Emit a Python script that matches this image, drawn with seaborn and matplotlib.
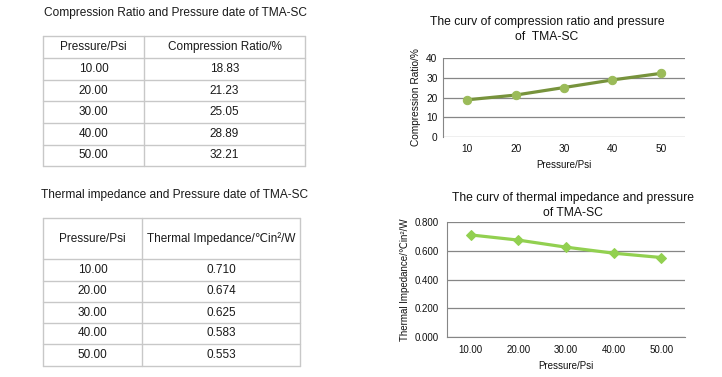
import matplotlib
matplotlib.use("Agg")
import matplotlib.pyplot as plt
import seaborn as sns
import pandas as pd

pressure = [10.00, 20.00, 30.00, 40.00, 50.00]
compression_ratio = [18.83, 21.23, 25.05, 28.89, 32.21]
thermal_impedance = [0.710, 0.674, 0.625, 0.583, 0.553]
ratio_ticks = ["10", "20", "30", "40", "50"]
imp_ticks = ["10.00", "20.00", "30.00", "40.00", "50.00"]

sns.set_style("white")
plt.rcParams['font.family'] = ['Liberation Sans', 'DejaVu Sans']

W, H = 722, 377
fig = plt.figure(figsize=(W / 100, H / 100), dpi=100)

# ---------- background axes in pixel coordinates for tables ----------
bg = fig.add_axes([0, 0, 1, 1])
bg.set_xlim(0, W)
bg.set_ylim(H, 0)
bg.axis("off")

grid_c = "#c8c8c8"
txt_c = "#1a1a1a"


def draw_table(x0, x1, xs, ys, header, rows, title, title_xy):
    bg.text(title_xy[0], title_xy[1], title, ha="center", va="center",
            fontsize=8.6, color=txt_c)
    for y in ys:
        bg.plot([x0, x1], [y, y], color=grid_c, lw=1.0)
    for x in [x0, xs, x1]:
        bg.plot([x, x], [ys[0], ys[-1]], color=grid_c, lw=1.0)
    cx0 = (x0 + xs) / 2
    cx1 = (xs + x1) / 2
    allrows = [header] + rows
    for i, (a, b) in enumerate(allrows):
        yc = (ys[i] + ys[i + 1]) / 2
        bg.text(cx0, yc, a, ha="center", va="center", fontsize=8.5, color=txt_c)
        bg.text(cx1, yc, b, ha="center", va="center", fontsize=8.5, color=txt_c)


rows1 = [(f"{p:.2f}", f"{c:.2f}") for p, c in zip(pressure, compression_ratio)]
draw_table(43, 305, 144, [36, 58, 80, 101, 123, 145, 166],
           ("Pressure/Psi", "Compression Ratio/%"), rows1,
           "Compression Ratio and Pressure date of TMA-SC", (175, 13))

rows2 = [(f"{p:.2f}", f"{t:.3f}") for p, t in zip(pressure, thermal_impedance)]
draw_table(43, 300, 142, [218, 259, 281, 302, 323, 344, 366],
           ("Pressure/Psi", "Thermal Impedance/℃in²/W"), rows2,
           "Thermal impedance and Pressure date of TMA-SC", (175, 195))

# chart titles
bg.text(547, 22, "The curv of compression ratio and pressure", ha="center",
        va="center", fontsize=8.75, color="#111111")
bg.text(547, 37, "of  TMA-SC", ha="center", va="center", fontsize=8.75,
        color="#111111")
bg.text(573, 198, "The curv of thermal impedance and pressure", ha="center",
        va="center", fontsize=8.75, color="#111111")
bg.text(573, 213, "of TMA-SC", ha="center", va="center", fontsize=8.75,
        color="#111111")


def ax_at(x0, y0, x1, y1):
    return fig.add_axes([x0 / W, 1 - y1 / H, (x1 - x0) / W, (y1 - y0) / H])


axis_c = "#868686"

# ---------- chart 1 ----------
ax1 = ax_at(443, 58, 685, 137)
df1 = pd.DataFrame({"Pressure": ratio_ticks, "Ratio": compression_ratio})
sns.lineplot(data=df1, x="Pressure", y="Ratio", ax=ax1, color="#77933C",
             lw=2.3, marker="o", markersize=6, markerfacecolor="#9BBB59",
             markeredgecolor="#9BBB59", sort=False)
ax1.set_xlim(-0.5, 4.5)
ax1.set_ylim(0, 40)
ax1.set_yticks([0, 10, 20, 30, 40])
ax1.yaxis.grid(True, color=axis_c, lw=0.9)
ax1.set_axisbelow(True)
for s in ["top", "right", "bottom"]:
    ax1.spines[s].set_visible(False)
ax1.spines["left"].set_color(axis_c)
ax1.tick_params(axis="both", length=0, labelsize=7.3, colors="#111111", pad=4)
ax1.tick_params(axis="x", pad=5)
ax1.set_xlabel("Pressure/Psi", fontsize=7, color="#111111", labelpad=4)
ax1.set_ylabel("Compression Ratio/%", fontsize=7.3, color="#111111", labelpad=4)

# ---------- chart 2 ----------
ax2 = ax_at(447, 222, 685, 337)
df2 = pd.DataFrame({"Pressure": imp_ticks, "Impedance": thermal_impedance})
sns.lineplot(data=df2, x="Pressure", y="Impedance", ax=ax2, color="#92D050",
             lw=2.3, marker="D", markersize=5.5, markerfacecolor="#92D050",
             markeredgecolor="#92D050", sort=False)
ax2.set_xlim(-0.5, 4.5)
ax2.set_ylim(0, 0.8)
ax2.set_yticks([0, 0.2, 0.4, 0.6, 0.8])
ax2.set_yticklabels([f"{v:.3f}" for v in [0, 0.2, 0.4, 0.6, 0.8]])
ax2.yaxis.grid(True, color=axis_c, lw=0.9)
ax2.set_axisbelow(True)
for s in ["top", "right"]:
    ax2.spines[s].set_visible(False)
ax2.spines["left"].set_color(axis_c)
ax2.spines["bottom"].set_color(axis_c)
ax2.tick_params(axis="both", labelsize=7, colors="#111111")
ax2.tick_params(axis="y", length=4, color=axis_c, direction="out", pad=2)
ax2.tick_params(axis="x", length=0, pad=6)
ax2.set_xticks([-0.5, 0.5, 1.5, 2.5, 3.5, 4.5], minor=True)
ax2.tick_params(axis="x", which="minor", length=4, color=axis_c, direction="out")
ax2.set_xlabel("Pressure/Psi", fontsize=7, color="#111111", labelpad=4)
ax2.set_ylabel("Thermal Impedance/℃in²/W", fontsize=7, color="#111111", labelpad=3)

fig.savefig("out.png", dpi=100)
